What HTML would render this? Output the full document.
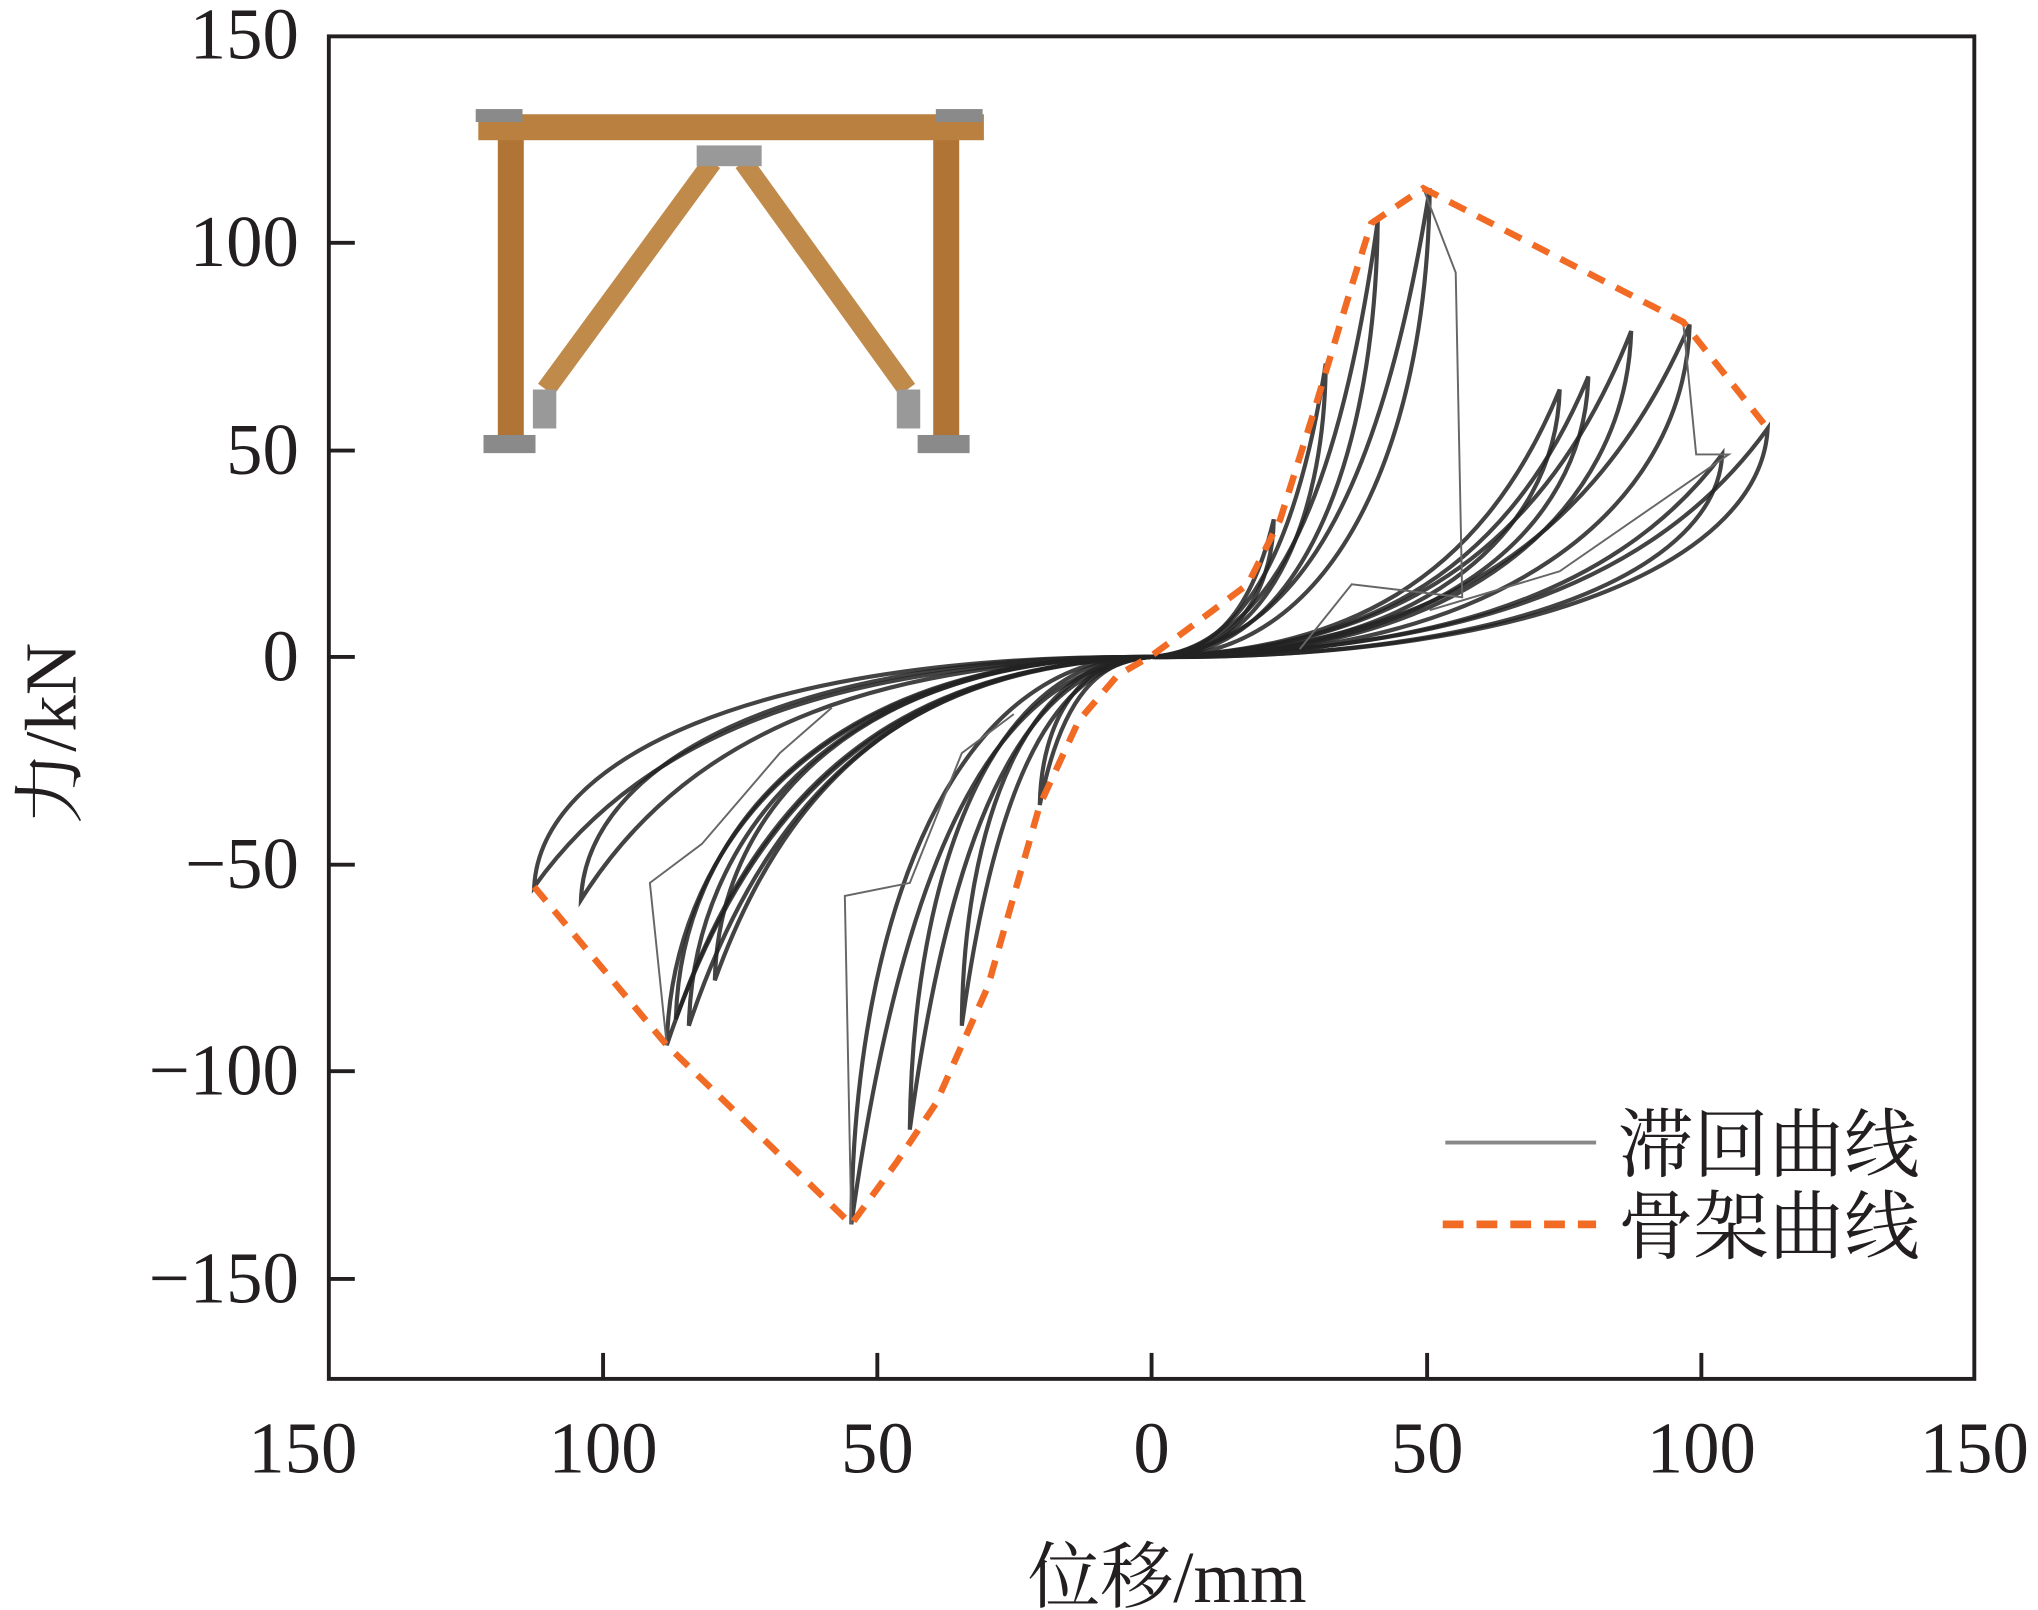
<!DOCTYPE html>
<html><head><meta charset="utf-8"><style>
html,body{margin:0;padding:0;background:#fff;width:2038px;height:1610px;overflow:hidden}
svg{display:block}
text{font-family:"Liberation Serif","Times New Roman","Noto Serif CJK SC",serif;fill:#231f20}
</style></head><body>
<svg width="2038" height="1610" viewBox="0 0 1568 1240" preserveAspectRatio="none">
<g>
<rect x="383" y="90" width="20" height="255" fill="#b07434"/>
<rect x="718" y="90" width="20" height="255" fill="#b07434"/>
<rect x="368" y="88" width="389" height="20" fill="#b98040"/>
<rect x="366" y="84" width="36" height="10" fill="#8a8a8a"/>
<rect x="720" y="84" width="36" height="10" fill="#8a8a8a"/>
<rect x="372" y="335" width="40" height="14" fill="#8a8a8a"/>
<rect x="706" y="335" width="40" height="14" fill="#8a8a8a"/>
<line x1="548" y1="125" x2="420" y2="300" stroke="#c08a4a" stroke-width="15"/>
<line x1="572" y1="125" x2="698" y2="300" stroke="#c08a4a" stroke-width="15"/>
<rect x="536" y="112" width="50" height="16" fill="#999"/>
<rect x="410" y="300" width="18" height="30" fill="#999"/>
<rect x="690" y="300" width="18" height="30" fill="#999"/>
</g>
<g fill="none" stroke="#222" stroke-width="3.2" stroke-opacity="0.85">
<path d="M886,506 C1099,502 1265,462 1360,330 C1355,427 1194,508 886,506"/>
<path d="M886,506 C1084,503 1237,467 1325,350 C1321,436 1171,508 886,506"/>
<path d="M886,506 C1072,501 1217,442 1300,250 C1296,391 1155,509 886,506"/>
<path d="M886,506 C1052,501 1181,443 1255,255 C1251,393 1126,509 886,506"/>
<path d="M886,506 C1037,502 1155,452 1222,290 C1219,409 1104,508 886,506"/>
<path d="M886,506 C1027,502 1137,454 1200,300 C1197,413 1090,508 886,506"/>
<path d="M886,506 C982,499 1057,416 1100,145 C1098,344 1025,510 886,506"/>
<path d="M886,506 C964,499 1025,422 1060,170 C1058,355 999,509 886,506"/>
<path d="M886,506 C946,501 993,450 1020,280 C1019,404 973,508 886,506"/>
<path d="M886,506 C928,504 961,480 980,400 C979,458 947,507 886,506"/>
<path d="M886,506 C672,510 506,550 411,683 C416,586 577,504 886,506"/>
<path d="M886,506 C688,510 535,553 447,693 C451,590 601,504 886,506"/>
<path d="M886,506 C718,512 588,581 513,805 C517,641 644,503 886,506"/>
<path d="M886,506 C721,512 593,576 520,785 C524,632 648,503 886,506"/>
<path d="M886,506 C735,511 617,568 550,755 C553,618 668,504 886,506"/>
<path d="M886,506 C726,512 601,577 530,790 C534,634 655,503 886,506"/>
<path d="M886,506 C782,515 701,615 655,943 C657,703 736,502 886,506"/>
<path d="M886,506 C802,513 737,597 700,870 C702,670 765,502 886,506"/>
<path d="M886,506 C820,512 769,577 740,790 C741,634 791,503 886,506"/>
<path d="M886,506 C847,508 817,534 800,620 C801,557 830,505 886,506"/>
</g>
<g fill="none" stroke="#666" stroke-width="1.5">
<path d="M1095,145 L1120,210 L1125,460 L1040,450 L1000,500"/>
<path d="M1295,248 L1305,350 L1330,350 L1200,440 L1100,470"/>
<path d="M655,943 L650,690 L700,680 L740,580 L780,550"/>
<path d="M513,805 L500,680 L540,650 L600,580 L640,545"/>
</g>
<polyline fill="none" stroke="#f26b24" stroke-width="5" stroke-dasharray="14,10" points="411,683 513,805 655,943 690,895 720,850 760,760 800,620 830,555 860,520 886,505 920,480 960,450 985,400 1010,320 1040,220 1055,172 1095,145 1295,248 1360,330"/>
<rect x="253" y="28" width="1266" height="1034" fill="none" stroke="#231f20" stroke-width="3"/>
<g stroke="#231f20" stroke-width="3">
<line x1="464" y1="1062" x2="464" y2="1042"/><line x1="675" y1="1062" x2="675" y2="1042"/>
<line x1="886" y1="1062" x2="886" y2="1042"/><line x1="1098" y1="1062" x2="1098" y2="1042"/>
<line x1="1309" y1="1062" x2="1309" y2="1042"/>
<line x1="253" y1="187" x2="273" y2="187"/><line x1="253" y1="347" x2="273" y2="347"/>
<line x1="253" y1="506" x2="273" y2="506"/><line x1="253" y1="666" x2="273" y2="666"/>
<line x1="253" y1="825" x2="273" y2="825"/><line x1="253" y1="985" x2="273" y2="985"/>
</g>
<g font-size="56" text-anchor="end">
<text x="230" y="45">150</text><text x="230" y="205">100</text><text x="230" y="365">50</text>
<text x="230" y="524">0</text><text x="230" y="684">−50</text><text x="230" y="843">−100</text>
<text x="230" y="1003">−150</text>
</g>
<g font-size="56" text-anchor="middle">
<text x="233" y="1134">150</text><text x="464" y="1134">100</text><text x="675" y="1134">50</text>
<text x="886" y="1134">0</text><text x="1098" y="1134">50</text><text x="1309" y="1134">100</text>
<text x="1519" y="1134">150</text>
<text x="898" y="1234">位移/mm</text>
<text transform="translate(58,565) rotate(-90)">力/kN</text>
</g>
<line x1="1112" y1="880" x2="1228" y2="880" stroke="#888" stroke-width="3"/>
<line x1="1110" y1="943" x2="1228" y2="943" stroke="#f26b24" stroke-width="6" stroke-dasharray="16,10"/>
<g font-size="58"><text x="1245" y="902">滞回曲线</text><text x="1245" y="965">骨架曲线</text></g>
</svg>
</body></html>
